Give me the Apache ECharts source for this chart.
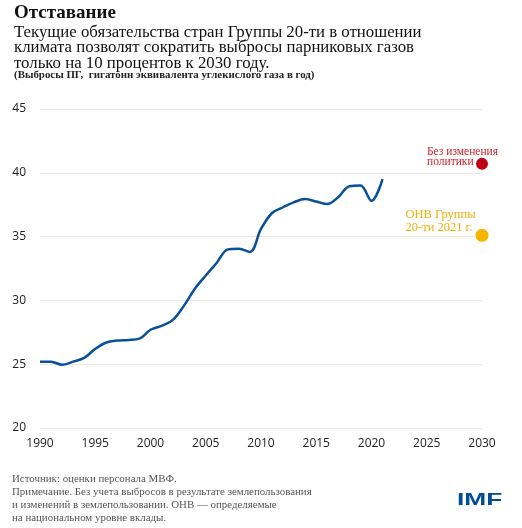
<!DOCTYPE html>
<html>
<head>
<meta charset="utf-8">
<script src="https://cdn.jsdelivr.net/npm/echarts@6/dist/echarts.min.js"></script>
<style>
  html, body { margin: 0; padding: 0; background: #fff; }
  #chart { width: 522px; height: 528px; }
</style>
</head>
<body>
<div id="chart"></div>
<script type="text/javascript">

    // годы и выбросы (гигатонн CO2-экв.)
    var years = [1990, 1991, 1992, 1993, 1994, 1995, 1996, 1997, 1998, 1999,
                 2000, 2001, 2002, 2003, 2004, 2005, 2006, 2007, 2008, 2009,
                 2010, 2011, 2012, 2013, 2014, 2015, 2016, 2017, 2018, 2019,
                 2020, 2021];
    var emissions = [25.2, 25.2, 24.95, 25.2, 25.5, 26.2, 26.7, 26.85, 26.9, 27.0,
                     27.7, 28.0, 28.45, 29.55, 30.9, 31.95, 32.95, 34.0, 34.05, 33.8,
                     35.6, 36.85, 37.3, 37.7, 37.95, 37.75, 37.55, 38.1, 38.95, 39.0,
                     37.8, 39.5];

    // прогнозы на 2030 год
    var noPolicy = [2030, 40.7];
    var ndc2021 = [2030, 35.1];

    var xTicks = {min: 1990, max: 2030, step: 5};
    var yTicks = {min: 20, max: 45, step: 5};

    var serif = '"Liberation Serif", "DejaVu Serif", serif';
    var sans = '"Open Sans", "Noto Sans", sans-serif';

    var lineData = [];
    for (var i = 0; i < years.length; i++) {
        lineData.push([years[i], emissions[i]]);
    }

    var option = {
        backgroundColor: '#fff',
        animation: false,
        title: [{
            text: 'Отставание',
            left: 14, top: 4, padding: 0,
            textStyle: {fontFamily: serif, fontSize: 19, fontWeight: 'bold', color: '#111'}
        }, {
            text: 'Текущие обязательства стран Группы 20-ти в отношении\nклимата позволят сократить выбросы парниковых газов\nтолько на 10 процентов к 2030 году.',
            left: 14, top: 25, padding: 0,
            textStyle: {fontFamily: serif, fontSize: 16.8, fontWeight: 'normal', lineHeight: 15.3, color: '#111'}
        }, {
            text: '(Выбросы ПГ,  гигатонн эквивалента углекислого газа в год)',
            left: 14, top: 70, padding: 0,
            textStyle: {fontFamily: serif, fontSize: 10.9, fontWeight: 'bold', color: '#222'}
        }, {
            text: 'Источник: оценки персонала МВФ.\nПримечание. Без учета выбросов в результате землепользования\nи изменений в землепользовании. ОНВ — определяемые\nна национальном уровне вклады.',
            left: 12, top: 473, padding: 0,
            textStyle: {fontFamily: serif, fontSize: 10.9, fontWeight: 'normal', lineHeight: 13, color: '#555'}
        }],
        graphic: [{
            type: 'text',
            x: 457, y: 492,
            scaleX: 1.55,
            style: {
                text: 'IMF', x: 0, y: 0,
                font: 'bold 17px "Liberation Sans", Arial, sans-serif',
                fill: '#004c97', textVerticalAlign: 'top'
            }
        }],
        grid: {left: 40, right: 40, top: 109, bottom: 100},
        xAxis: {
            type: 'value',
            min: xTicks.min, max: xTicks.max, interval: xTicks.step,
            axisLine: {show: false},
            axisTick: {show: false},
            splitLine: {show: false},
            axisLabel: {
                fontFamily: sans, fontSize: 12, color: '#222', margin: 10,
                formatter: function (v) { return String(v); }
            }
        },
        yAxis: {
            type: 'value',
            min: yTicks.min, max: yTicks.max, interval: yTicks.step,
            axisLine: {show: false},
            axisTick: {show: false},
            splitLine: {lineStyle: {color: '#ebe8e0', width: 1}},
            axisLabel: {fontFamily: sans, fontSize: 12, color: '#222', margin: 14}
        },
        series: [{
            type: 'line',
            data: lineData,
            smooth: 0.35,
            showSymbol: false,
            lineStyle: {color: '#0a4f9c', width: 2.5}
        }, {
            type: 'scatter',
            data: [noPolicy],
            symbolSize: 12,
            itemStyle: {color: '#c00012', opacity: 1},
            label: {
                show: true,
                formatter: 'Без изменения\nполитики',
                position: [-49, -11],
                align: 'left', verticalAlign: 'top',
                fontFamily: serif, fontSize: 11.5, lineHeight: 10, color: '#d0202a'
            }
        }, {
            type: 'scatter',
            data: [ndc2021],
            symbolSize: 13,
            itemStyle: {color: '#f7b500', opacity: 1},
            label: {
                show: true,
                formatter: 'ОНВ Группы\n20-ти 2021 г.',
                position: [-70, -21],
                align: 'left', verticalAlign: 'top',
                fontFamily: serif, fontSize: 12.5, lineHeight: 13, color: '#f0b000'
            }
        }]
    };

    var myChart = echarts.init(document.getElementById('chart'));
    myChart.setOption(option);
</script>
</body>
</html>
